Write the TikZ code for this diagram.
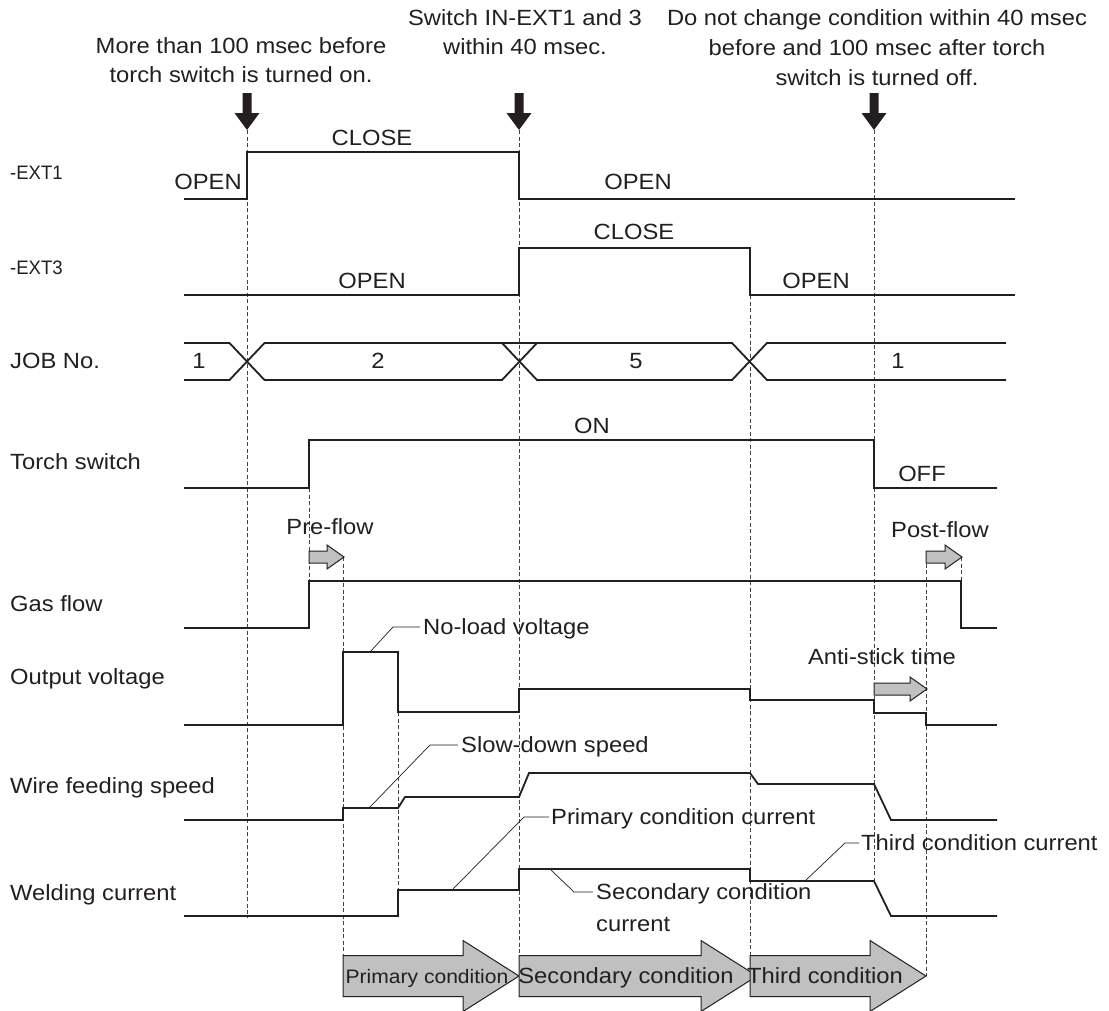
\documentclass[tikz,border=0pt]{standalone}
\usepackage{fontspec}
\setmainfont{Liberation Sans}[FakeStretch=1.08]
\newfontfamily\condfont{Liberation Sans}[FakeStretch=0.95]
\definecolor{ink}{HTML}{231F20}
\definecolor{fillg}{HTML}{C0C0C0}
\newcommand\fsz{\fontsize{22}{29}\selectfont}
\newcommand\fsm{\condfont\fontsize{19.5}{24}\selectfont}
\newcommand\fsp{\fontsize{19.5}{24}\selectfont}
\newcommand\sarrow[3]{\draw[blk] (#1,#3-6) -- (#2-17,#3-6) -- (#2-17,#3-12) -- (#2,#3) -- (#2-17,#3+12) -- (#2-17,#3+6) -- (#1,#3+6) -- cycle;}
\newcommand\barrow[3]{\draw[blk] (#1,#3-20.5) -- (#2-56,#3-20.5) -- (#2-56,#3-35.5) -- (#2,#3) -- (#2-56,#3+35.5) -- (#2-56,#3+20.5) -- (#1,#3+20.5) -- cycle;}
\begin{document}
\begin{tikzpicture}[x=1pt,y=-1pt,
  wave/.style={draw=ink,line width=1.8pt,line join=miter},
  guide/.style={draw=ink!85,line width=0.8pt,dash pattern=on 4pt off 2.5pt},
  lead/.style={draw=ink,line width=0.7pt},
  txt/.style={inner sep=0pt,text=ink,font=\fsz,text height=15.75pt,text depth=0pt},
  rowlbl/.style={txt,anchor=west},
  smalllbl/.style={inner sep=0pt,text=ink,font=\fsm,text height=14pt,text depth=0pt,anchor=west},
  ltxt/.style={txt,anchor=west},
  blk/.style={draw=ink,line width=1pt,fill=fillg,line join=miter}]
\useasboundingbox[fill=white] (0,0) rectangle (1109,1010);

% guide lines
\draw[guide] (247,130) -- (247,918);
\draw[guide] (519,130) -- (519,956);
\draw[guide] (874,130) -- (874,880);
\draw[guide] (309,488) -- (309,581);
\draw[guide] (343,557) -- (343,956);
\draw[guide] (398,712) -- (398,890);
\draw[guide] (750,295) -- (750,956);
\draw[guide] (926,557) -- (926,976);
\draw[guide] (961,557) -- (961,581);

% top markers
\foreach \x in {247,519,874}
  \fill[ink] (\x-4.5,93) -- (\x+4.5,93) -- (\x+4.5,113) -- (\x+12.5,113) -- (\x,130) -- (\x-12.5,113) -- (\x-4.5,113) -- cycle;

% titles
\node[txt] (t1a) at (241,46) {More than 100 msec before};
\node[txt] (t1b) at (241,75) {torch switch is turned on.};
\node[txt] (t2a) at (525,18) {Switch IN-EXT1 and 3};
\node[txt] (t2b) at (525,47) {within 40 msec.};
\node[txt] (t3a) at (877,18) {Do not change condition within 40 msec};
\node[txt] (t3b) at (877,48) {before and 100 msec after torch};
\node[txt] (t3c) at (877,78) {switch is turned off.};

% row labels
\node[smalllbl] (lext1) at (10,172) {-EXT1};
\node[smalllbl] (lext3) at (10,267) {-EXT3};
\node[rowlbl] (ljob) at (10,361) {JOB No.};
\node[rowlbl] (ltorch) at (10,462) {Torch switch};
\node[rowlbl] (lgas) at (10,604) {Gas flow};
\node[rowlbl] (lvolt) at (10,677) {Output voltage};
\node[rowlbl] (lwire) at (10,786) {Wire feeding speed};
\node[rowlbl] (lweld) at (10,893) {Welding current};

% EXT1
\draw[wave] (184,199) -- (247,199) -- (247,152) -- (519,152) -- (519,199) -- (1015,199);
\node[txt] (e1o) at (208,182) {OPEN};
\node[txt] (e1c) at (372,138) {CLOSE};
\node[txt] (e1o2) at (638,182) {OPEN};

% EXT3
\draw[wave] (184,295) -- (519,295) -- (519,248) -- (750,248) -- (750,295) -- (1015,295);
\node[txt] (e3c) at (634,232) {CLOSE};
\node[txt] (e3o) at (372,281) {OPEN};
\node[txt] (e3o2) at (816,281) {OPEN};

% JOB No.
\draw[wave] (184,343) -- (229.5,343) -- (264.5,380) -- (502,380) -- (537,343) -- (264.5,343) -- (229.5,380) -- (184,380);
\draw[wave] (502,343) -- (537,380) -- (732,380) -- (767,343) -- (1006,343);
\draw[wave] (537,343) -- (732,343) -- (767,380) -- (1006,380);
\node[txt] (j1) at (199,361) {1};
\node[txt] (j2) at (378,361) {2};
\node[txt] (j5) at (636,361) {5};
\node[txt] (j1b) at (898,361) {1};

% Torch switch
\draw[wave] (184,488) -- (309,488) -- (309,440) -- (874,440) -- (874,488) -- (997,488);
\node[txt] (ton) at (592,426) {ON};
\node[txt] (toff) at (922,474) {OFF};

% Gas flow
\draw[wave] (184,628) -- (309,628) -- (309,581) -- (961,581) -- (961,628) -- (997,628);
\node[txt] (pre) at (330,527) {Pre-flow};
\node[txt] (post) at (940,530) {Post-flow};
\sarrow{309}{344}{557}
\sarrow{926}{962}{557}

% Output voltage
\draw[wave] (184,725) -- (343,725) -- (343,652) -- (398,652) -- (398,712) -- (519,712) -- (519,689) -- (750,689) -- (750,700) -- (874,700) -- (874,713) -- (926,713) -- (926,725) -- (997,725);
\node[ltxt] (nlv) at (423,627) {No-load voltage};
\draw[lead] (370,652) -- (393,627) -- ([xshift=-3pt]nlv.west);
\node[txt] (ast) at (882,657) {Anti-stick time};
\sarrow{874}{927}{689}

% Wire feeding speed
\draw[wave] (184,820) -- (343,820) -- (343,808) -- (398,808) -- (405,797) -- (519,797) -- (529,773) -- (750,773) -- (758,784) -- (874,784) -- (891,820) -- (997,820);
\node[ltxt] (sds) at (461,745) {Slow-down speed};
\draw[lead] (369,808) -- (430,745) -- ([xshift=-3pt]sds.west);

% Welding current
\draw[wave] (184,916) -- (398,916) -- (398,890) -- (519,890) -- (519,869) -- (750,869) -- (750,881) -- (874,881) -- (891,916) -- (997,916);
\node[ltxt] (pcc) at (551,817) {Primary condition current};
\draw[lead] (452,890) -- (524,817) -- ([xshift=-2pt]pcc.west);
\node[ltxt] (scc) at (596,892) {Secondary condition};
\node[ltxt] (scc2) at (596,924) {current};
\draw[lead] (550,869) -- (574,892) -- ([xshift=-3pt]scc.west);
\node[ltxt] (tcc) at (861,843) {Third condition current};
\draw[lead] (805,881) -- (845,843) -- ([xshift=-2pt]tcc.west);

% condition arrows
\barrow{343}{519}{976}
\barrow{519}{757}{976}
\barrow{750}{926}{976}
\node[inner sep=0pt,text=ink,font=\fsp,text height=14pt,text depth=0pt] (cp) at (427,976) {Primary condition};
\node[txt] (cs) at (626,976) {Secondary condition};
\node[txt] (ct) at (825,976) {Third condition};
\end{tikzpicture}
\end{document}
